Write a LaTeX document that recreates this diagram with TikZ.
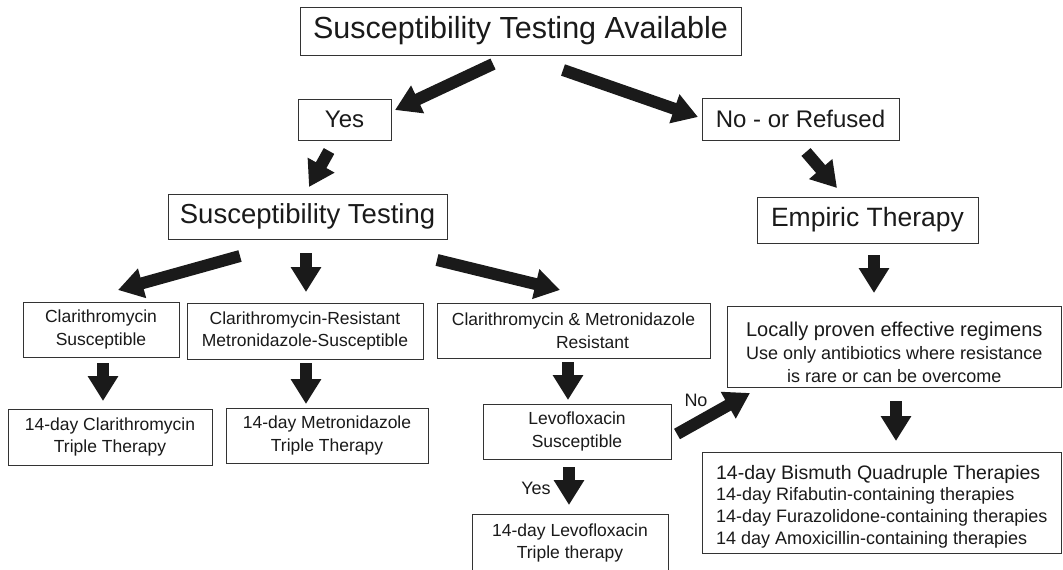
\documentclass[tikz,border=0pt]{standalone}
\usepackage{fontspec}
\setmainfont{Liberation Sans}
\usetikzlibrary{arrows.meta}
\definecolor{ink}{HTML}{1A1A1A}
\definecolor{frame}{HTML}{333333}
\newcommand\fsz[2]{\fontsize{#1}{#2}\selectfont}

\begin{document}
\begin{tikzpicture}[x=1pt,y=-1pt,
  box/.style={draw=frame, line width=0.9pt, inner sep=0pt, align=center, text=ink},
  bigarrow/.style={draw=ink, line width=12pt, -{Triangle[width=29pt,length=25pt]}},
  lbl/.style={text=ink, inner sep=0pt, font=\fsz{18}{22}}]
\useasboundingbox[fill=white] (0,0) rectangle (1063,570);

% decision levels
\node[box, minimum width=441pt, minimum height=48pt, font=\fsz{30.5}{35}] (avail) at (520.5,31) {Susceptibility Testing Available};
\node[box, minimum width=93pt, minimum height=41pt, font=\fsz{24}{28}] (yes) at (344.5,119.5) {Yes};
\node[box, minimum width=197pt, minimum height=42pt, font=\fsz{24}{28}] (no) at (800.5,119) {No - or Refused};
\node[box, minimum width=279pt, minimum height=45pt, font=\fsz{27.5}{32}] (test) at (307.5,216.5) {Susceptibility Testing};
\node[box, minimum width=221pt, minimum height=46pt, font=\fsz{26.5}{31}] (emp) at (867.5,220) {Empiric Therapy};

% susceptibility results
\node[box, minimum width=156pt, minimum height=55pt, font=\fsz{17.5}{22.5}] (cs) at (101,329.5) {Clarithromycin\\Susceptible};
\node[box, minimum width=236pt, minimum height=56pt, font=\fsz{17.5}{22.5}] (cr) at (305,331) {Clarithromycin-Resistant\\Metronidazole-Susceptible};
\node[box, minimum width=273pt, minimum height=55pt, font=\fsz{17.5}{22.5}] (cm) at (573.5,330.5) {Clarithromycin \& Metronidazole\\\hspace*{38pt}Resistant};
\node[box, minimum width=334.5pt, minimum height=81pt, font=\fsz{18}{23}] (local) at (894.25,346.5)
  {{\fsz{20}{23}\rule{0pt}{26pt}Locally proven effective regimens}\\
   Use only antibiotics where resistance\\
   is rare or can be overcome};

% regimens
\node[box, minimum width=204pt, minimum height=56pt, font=\fsz{17.5}{22.5}] (c14) at (110,437) {14-day Clarithromycin\\Triple Therapy};
\node[box, minimum width=202pt, minimum height=55pt, font=\fsz{17.5}{22.5}] (m14) at (327,435.5) {14-day Metronidazole\\Triple Therapy};
\node[box, minimum width=188pt, minimum height=55pt, font=\fsz{17.5}{22.5}] (levo) at (577,431.5) {Levofloxacin\\Susceptible};
\node[box, minimum width=196pt, minimum height=58pt, font=\fsz{17.5}{22.5}] (l14) at (570,543) {14-day Levofloxacin\\Triple therapy};
\node[box, minimum width=359.5pt, minimum height=101pt, align=left, font=\fsz{18}{21.7}] (bis) at (881.75,502.5)
  {{\fsz{19.5}{21.7}\rule{0pt}{22pt}14-day Bismuth Quadruple Therapies}\\
   14-day Rifabutin-containing therapies\\
   14-day Furazolidone-containing therapies\\
   14 day Amoxicillin-containing therapies};

% arrow end points
\coordinate (a1s) at (493,64);  \coordinate (a1e) at (395,110);
\coordinate (a2s) at (563,70);  \coordinate (a2e) at (698,117);
\coordinate (a3s) at (329,151); \coordinate (a3e) at (309,187);
\coordinate (a4s) at (806,152); \coordinate (a4e) at (837,188);
\coordinate (a5s) at (240,256); \coordinate (a5e) at (118,290);
\coordinate (a6s) at (306,253); \coordinate (a6e) at (306,292);
\coordinate (a7s) at (437,260); \coordinate (a7e) at (560,290);
\coordinate (a8s) at (874,255); \coordinate (a8e) at (874,293);
\coordinate (a9s) at (103,363); \coordinate (a9e) at (103,401);
\coordinate (a10s) at (306,363); \coordinate (a10e) at (306,404);
\coordinate (a11s) at (568,362); \coordinate (a11e) at (568,400);
\coordinate (a12s) at (569,467); \coordinate (a12e) at (569,505);
\coordinate (a13s) at (677,434); \coordinate (a13e) at (750,393);
\coordinate (a14s) at (896,401); \coordinate (a14e) at (896,441);

\foreach \k in {1,...,14} \draw[bigarrow] (a\k s) -- (a\k e);

% branch labels
\node[lbl] (lyes) at (536,488) {Yes};
\node[lbl] (lno) at (696,400) {No};
\end{tikzpicture}
\end{document}
